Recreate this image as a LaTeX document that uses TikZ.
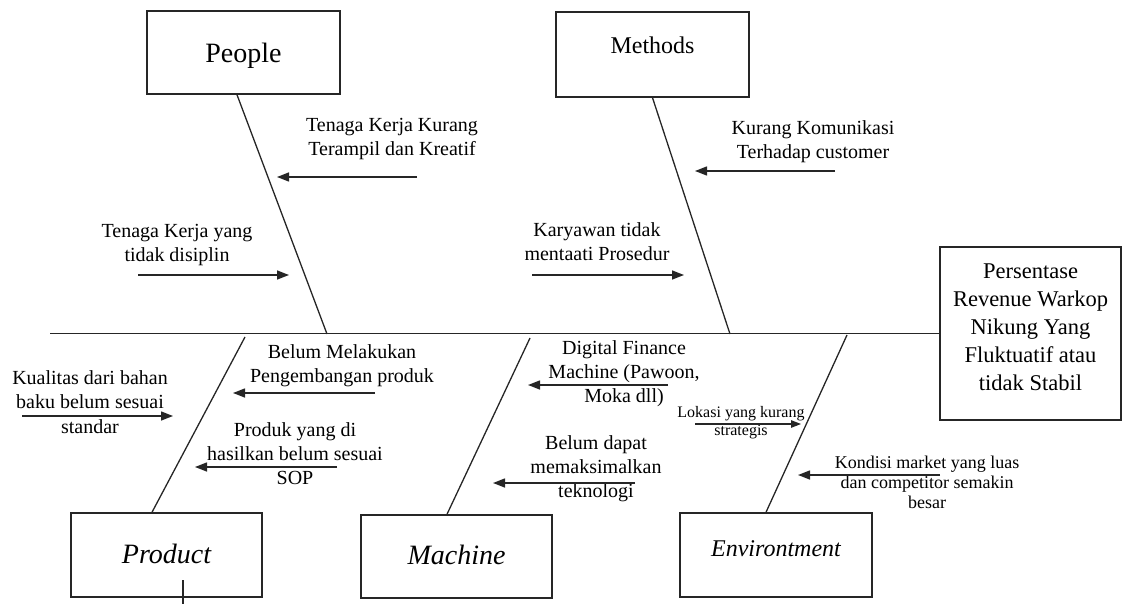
\documentclass[tikz,border=0pt]{standalone}
\usepackage{fontspec}
\setmainfont{Liberation Serif}
\usetikzlibrary{arrows.meta}

\tikzset{
  catbox/.style={draw=black!85, line width=1.5pt, inner sep=0pt, minimum width=192pt, minimum height=84pt},
  effectbox/.style={draw=black!85, line width=1.5pt, inner sep=0pt, minimum width=181pt, minimum height=173pt,
    align=center, font=\fontsize{22.5}{28}\selectfont},
  bone/.style={draw=black!85, line width=1.3pt},
  cause/.style={draw=black!85, line width=1.4pt, -{Triangle[length=12pt,width=9pt]}},
  smallcause/.style={draw=black!85, line width=1.2pt, -{Triangle[length=10pt,width=7.5pt]}},
  causetext/.style={align=center, inner sep=0pt, font=\fontsize{20}{24}\selectfont},
}
% shift box text up or down while keeping its measured size
\newcommand{\liftby}[2]{\raisebox{#1}[\height][\depth]{#2}}

\begin{document}
\begin{tikzpicture}[x=1pt,y=-1pt]
\useasboundingbox (0,0) rectangle (1124,604);

% effect (head of the fish)
\node[effectbox] (effect) at (1030.5,333.5) {\liftby{5pt}{\begin{tabular}{@{}c@{}}Persentase\\Revenue Warkop\\Nikung Yang\\Fluktuatif atau\\tidak Stabil\end{tabular}}};

% category boxes
\node[catbox, minimum width=193pt, minimum height=83pt, font=\fontsize{28}{32}\selectfont] (people) at (243.5,52.5) {\liftby{-3pt}{People}};
\node[catbox, minimum width=193pt, minimum height=85pt, font=\fontsize{24}{28}\selectfont] (methods) at (652.5,54.5) {\liftby{9.5pt}{Methods}};
\node[catbox, minimum width=191pt, font=\fontsize{28}{32}\selectfont\itshape] (product) at (166.5,555) {\liftby{1pt}{Product}};
\node[catbox, minimum width=191pt, minimum height=83pt, font=\fontsize{28}{32}\selectfont\itshape] (machine) at (456.5,556.5) {\liftby{2pt}{Machine}};
\node[catbox, font=\fontsize{24}{28}\selectfont\itshape] (environment) at (776,555) {\liftby{6pt}{Environtment}};

% spine
\coordinate (tail) at (50,333.5);
\draw[bone, line width=1.5pt] (tail) -- (effect.west);

% bones
\coordinate (pS) at (327,334);
\coordinate (mS) at (730,334);
\coordinate (prS) at (245,337);
\coordinate (maS) at (530,338);
\coordinate (enS) at (847,335);
\draw[bone] ([xshift=-6.5pt]people.south) -- (pS);
\draw[bone] (methods.south) -- (mS);
\draw[bone] ([xshift=-14.5pt]product.north) -- (prS);
\draw[bone] ([xshift=-9.5pt]machine.north) -- (maS);
\draw[bone] ([xshift=-10pt]environment.north) -- (enS);

% small mark below the Product box
\coordinate (tickA) at (183,580);
\coordinate (tickB) at (183,604);
\draw[line width=1.1pt, black!85] (tickA) -- (tickB);

% People causes
\node[causetext] (t1) at (392,139.5) {Tenaga Kerja Kurang\\Terampil dan Kreatif};
\coordinate (a1s) at (417,177); \coordinate (a1e) at (277,177);
\draw[cause] (a1s) -- (a1e);

\node[causetext] (t2) at (177,245.5) {Tenaga Kerja yang\\tidak disiplin};
\coordinate (a2s) at (138,275); \coordinate (a2e) at (289,275);
\draw[cause] (a2s) -- (a2e);

% Methods causes
\node[causetext] (t3) at (813,141.5) {Kurang Komunikasi\\Terhadap customer};
\coordinate (a3s) at (835,171); \coordinate (a3e) at (695,171);
\draw[cause] (a3s) -- (a3e);

\node[causetext] (t4) at (597,241.5) {Karyawan tidak\\mentaati Prosedur};
\coordinate (a4s) at (532,275); \coordinate (a4e) at (684,275);
\draw[cause] (a4s) -- (a4e);

% Product causes
\node[causetext] (t5) at (342,366) {Belum Melakukan\\Pengembangan produk};
\coordinate (a5s) at (375,393); \coordinate (a5e) at (233,393);
\draw[cause] (a5s) -- (a5e);

\node[causetext, font=\fontsize{20}{24.5}\selectfont] (t6) at (90,402) {Kualitas dari bahan\\baku belum sesuai\\standar};
\coordinate (a6s) at (22,416); \coordinate (a6e) at (173,416);
\draw[cause] (a6s) -- (a6e);

\node[causetext] (t7) at (295,453.5) {Produk yang di\\hasilkan belum sesuai\\SOP};
\coordinate (a7s) at (337,467); \coordinate (a7e) at (195,467);
\draw[cause] (a7s) -- (a7e);

% Machine causes
\node[causetext] (t8) at (624,373.5) {Digital Finance\\Machine (Pawoon,\\Moka dll)};
\coordinate (a8s) at (668,385); \coordinate (a8e) at (528,385);
\draw[cause] (a8s) -- (a8e);

\node[causetext] (t10) at (596,469) {Belum dapat\\memaksimalkan\\teknologi};
\coordinate (a10s) at (635,483); \coordinate (a10e) at (493,483);
\draw[cause] (a10s) -- (a10e);

% Environment causes
\node[causetext, font=\fontsize{16}{18}\selectfont] (t9) at (741,423) {Lokasi yang kurang\\strategis};
\coordinate (a9s) at (695,424); \coordinate (a9e) at (801,424);
\draw[smallcause] (a9s) -- (a9e);

\node[causetext, font=\fontsize{18}{20}\selectfont] (t11) at (927,482.5) {Kondisi market yang luas\\dan competitor semakin\\besar};
\coordinate (a11s) at (940,475); \coordinate (a11e) at (798,475);
\draw[cause] (a11s) -- (a11e);
\end{tikzpicture}
\end{document}
